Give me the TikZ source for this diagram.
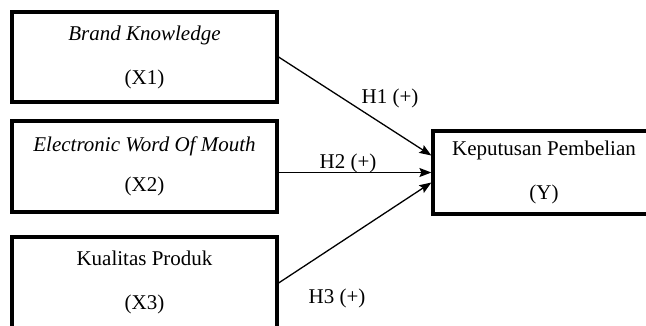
\documentclass[tikz,border=0pt]{standalone}
\usepackage{fontspec}
\setmainfont{Liberation Serif}
\usetikzlibrary{arrows.meta}
\begin{document}
\begin{tikzpicture}[x=1pt,y=-1pt,
  varbox/.style={draw=black,line width=3.2pt,rectangle,align=center,
    font=\fontsize{21}{44}\selectfont,inner sep=0pt},
  boxtext/.style={align=center,font=\fontsize{21}{44}\selectfont,inner sep=0pt},
  link/.style={line width=1.3pt,-{Stealth[length=12pt,width=9pt,inset=2pt]}},
  hlabel/.style={font=\fontsize{21}{25}\selectfont,inner sep=0pt}]
\useasboundingbox (0,0) rectangle (646,325);
\node[varbox,minimum width=265pt,minimum height=90pt] (b1) at (144.5,57) {\textit{Brand Knowledge}\\(X1)};
\node[varbox,minimum width=265pt,minimum height=91pt] (b2) at (144.5,166.5) {\textit{Electronic Word Of Mouth}\\[-4pt](X2)};
\node[varbox,minimum width=265pt,minimum height=96pt,
  label={[boxtext,yshift=3pt]center:{Kualitas Produk\\(X3)}}] (b3) at (144.5,285) {};
\node[varbox,minimum width=230pt,minimum height=83pt] (y) at (548,172.5) {\hspace*{-8pt}Keputusan Pembelian\\\hspace*{-8pt}(Y)};
\draw[link] (b1.east) -- ([yshift=17pt]y.west);
\draw[link] (b2.east |- y.west) -- (y.west);
\draw[link] ([yshift=2pt]b3.east) -- ([yshift=-10pt]y.west);
\node[hlabel] (h1) at (390,98) {H1 (+)};
\node[hlabel] (h2) at (348,163) {H2 (+)};
\node[hlabel] (h3) at (337,298) {H3 (+)};
\end{tikzpicture}
\end{document}
